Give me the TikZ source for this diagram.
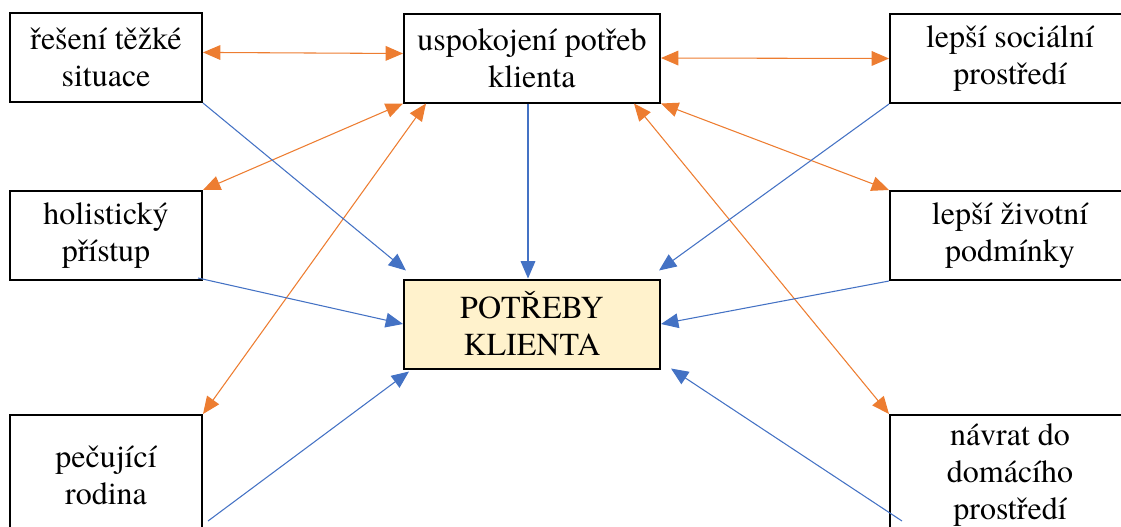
\documentclass[tikz,border=0pt]{standalone}
\usepackage{fontspec}
\setmainfont{texgyretermes}[Extension=.otf, UprightFont=*-regular]
\usetikzlibrary{arrows.meta}
\usetikzlibrary{calc}
\definecolor{oranzova}{HTML}{ED7D31}
\definecolor{modra}{HTML}{4472C4}
\definecolor{zluta}{HTML}{FFF2CC}
\tikzset{
	box/.style={draw=black, line width=1.5pt, align=center, inner sep=0pt,
		font=\fontsize{24}{27.75}\selectfont, minimum height=66.75pt},
	% oboustranna sipka
	obi/.style={draw=oranzova, line width=0.8pt,
		{Triangle[length=13pt,width=11pt]}-{Triangle[length=13pt,width=11pt]}},
	% sipka do stredu
	mod/.style={draw=modra, line width=0.8pt, -{Triangle[length=13pt,width=11pt]}}
}

\begin{document}
\begin{tikzpicture}[x=0.75pt, y=-0.75pt]
	% 1121 x 526 px, y down
	\useasboundingbox (0,0) rectangle (1121,526);
	\clip (0,0) rectangle (1121,526);
	
	% boxes
	\node[box, minimum width=144pt] (res) at (106,57.5) {řešení těžké\\situace};
	\node[box, minimum width=192pt] (usp) at (532,58) {uspokojení potřeb\\klienta};
	\node[box, minimum width=180pt] (soc) at (1010,58.5) {lepší sociální\\prostředí};
	\node[box, minimum width=144pt] (hol) at (106,235.5) {holistický\\přístup};
	\node[box, minimum width=192pt, fill=zluta] (pot) at (532,324) {POTŘEBY\\KLIENTA};
	\node[box, minimum width=180pt] (ziv) at (1010,235.5) {lepší životní\\podmínky};
	\node[box, minimum width=144pt, minimum height=90pt] (pec) at (106,475) {pečující\\rodina};
	\node[box, minimum width=180pt, minimum height=90pt] (nav) at (1010,475) {návrat do\\domácího\\prostředí};
	
	% orange
	\draw[obi] (res.3) -- (usp.178);
	\draw[obi] (usp.east) -- (soc.west);
	\draw[obi] (usp.south west) -- (hol.north east);
	\draw[obi] ($(usp.south west)+(23,0)$) -- (pec.north east);
	\draw[obi] (usp.south east) -- (ziv.north west);
	\draw[obi] ($(usp.south east)+(-27,0)$) -- (nav.north west);
	
	% blue
	\draw[mod] (res.south east) -- ($(pot.north west)+(3,-8)$);
	\draw[mod] ($(usp.south)+(-4,0)$) -- ($(pot.north)+(-4,0)$);
	\draw[mod] (soc.south west) -- ($(pot.north east)+(-2,-8)$);
	\draw[mod] ($(hol.south east)+(-5,-3)$) -- (pot.west);
	\draw[mod] (ziv.south west) -- (pot.east);
	\draw[mod] ($(pec.north east)+(5,107)$) -- ($(pot.south west)+(6,2)$);
	\draw[mod] ($(nav.north west)+(13,107)$) -- ($(pot.south east)+(10,-1)$);
\end{tikzpicture}
\end{document}
